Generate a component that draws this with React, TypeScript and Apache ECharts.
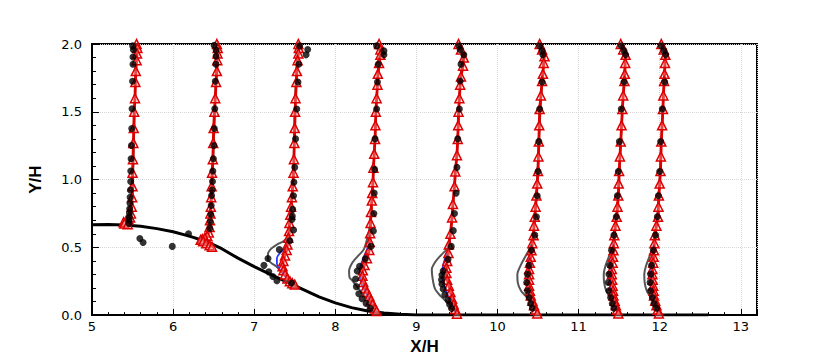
import React, { useEffect, useRef } from "react";
import * as echarts from "echarts";

type P = [number, number];

// Hill profile (X/H, Y/H)
const hill: P[] = [
  [5.0, 0.667], [5.2, 0.668], [5.4, 0.664], [5.6, 0.655], [5.8, 0.638], [6.0, 0.615],
  [6.2, 0.583], [6.4, 0.545], [6.6, 0.49], [6.8, 0.42], [7.0, 0.358], [7.2, 0.3],
  [7.4, 0.245], [7.6, 0.19], [7.8, 0.135], [8.0, 0.09], [8.2, 0.055], [8.4, 0.03],
  [8.6, 0.015], [8.8, 0.006], [9.0, 0.0], [12.6, 0.0],
];

// Red line with triangles
const red1: P[] = [
  [5.55, 2.0], [5.56, 1.97], [5.555, 1.93], [5.55, 1.88], [5.54, 1.8], [5.535, 1.72], [5.53, 1.6],
  [5.52, 1.5], [5.515, 1.38], [5.51, 1.27], [5.505, 1.15], [5.5, 1.05], [5.5, 0.95], [5.495, 0.87],
  [5.49, 0.8], [5.48, 0.75], [5.47, 0.72], [5.45, 0.705], [5.42, 0.695], [5.39, 0.685], [5.4, 0.675], [5.44, 0.67],
];
const red2: P[] = [
  [6.54, 2.0], [6.55, 1.97], [6.548, 1.93], [6.545, 1.88], [6.54, 1.8], [6.53, 1.72], [6.52, 1.6],
  [6.51, 1.5], [6.5, 1.38], [6.495, 1.27], [6.49, 1.15], [6.48, 1.05], [6.475, 0.95], [6.47, 0.87],
  [6.465, 0.8], [6.46, 0.75], [6.455, 0.7], [6.45, 0.65], [6.44, 0.61], [6.42, 0.585], [6.39, 0.57],
  [6.36, 0.56], [6.34, 0.555], [6.37, 0.545], [6.41, 0.53], [6.45, 0.515], [6.48, 0.505],
];
const red3: P[] = [
  [7.545, 2.0], [7.55, 1.97], [7.545, 1.93], [7.535, 1.88], [7.527, 1.8], [7.52, 1.72], [7.51, 1.6],
  [7.505, 1.5], [7.5, 1.38], [7.495, 1.27], [7.49, 1.15], [7.485, 1.05], [7.475, 0.95], [7.465, 0.87],
  [7.455, 0.8], [7.445, 0.74], [7.435, 0.68], [7.43, 0.62], [7.42, 0.57], [7.41, 0.52], [7.4, 0.48],
  [7.38, 0.44], [7.36, 0.4], [7.35, 0.36], [7.36, 0.33], [7.38, 0.3], [7.41, 0.27], [7.44, 0.25],
  [7.47, 0.235], [7.5, 0.225],
];
const red4: P[] = [
  [8.54, 2.0], [8.556, 1.96], [8.556, 1.92], [8.54, 1.86], [8.525, 1.78], [8.52, 1.7], [8.51, 1.6],
  [8.5, 1.5], [8.495, 1.4], [8.49, 1.3], [8.48, 1.19], [8.47, 1.087], [8.465, 0.98], [8.455, 0.9],
  [8.45, 0.845], [8.44, 0.76], [8.435, 0.68], [8.43, 0.604], [8.425, 0.54], [8.42, 0.48], [8.39, 0.42],
  [8.36, 0.37], [8.34, 0.33], [8.335, 0.29], [8.345, 0.245], [8.37, 0.2], [8.39, 0.17], [8.42, 0.14],
  [8.44, 0.11], [8.46, 0.08], [8.49, 0.049], [8.51, 0.03],
];
const red5: P[] = [
  [9.52, 2.0], [9.55, 1.96], [9.585, 1.9], [9.575, 1.84], [9.55, 1.76], [9.54, 1.7], [9.53, 1.6],
  [9.52, 1.5], [9.515, 1.4], [9.51, 1.3], [9.5, 1.18], [9.48, 1.06], [9.47, 0.95], [9.45, 0.82],
  [9.44, 0.72], [9.42, 0.6], [9.4, 0.52], [9.395, 0.459], [9.38, 0.4], [9.37, 0.35], [9.37, 0.31],
  [9.38, 0.26], [9.4, 0.217], [9.42, 0.17], [9.44, 0.121], [9.46, 0.08], [9.48, 0.045], [9.5, 0.01],
];
const red6: P[] = [
  [10.52, 2.0], [10.55, 1.96], [10.58, 1.91], [10.57, 1.86], [10.56, 1.78], [10.55, 1.727], [10.535, 1.62],
  [10.52, 1.52], [10.515, 1.4], [10.51, 1.28], [10.505, 1.17], [10.5, 1.063], [10.49, 0.97], [10.48, 0.882],
  [10.47, 0.8], [10.46, 0.725], [10.45, 0.66], [10.445, 0.59], [10.43, 0.53], [10.42, 0.478], [10.41, 0.43],
  [10.4, 0.386], [10.39, 0.34], [10.39, 0.302], [10.39, 0.26], [10.39, 0.217], [10.4, 0.18], [10.41, 0.145],
  [10.43, 0.105], [10.45, 0.072], [10.47, 0.04], [10.49, 0.012],
];
const red7: P[] = [
  [11.52, 2.0], [11.55, 1.96], [11.58, 1.92], [11.575, 1.86], [11.57, 1.78], [11.565, 1.727], [11.55, 1.62],
  [11.54, 1.52], [11.53, 1.4], [11.52, 1.28], [11.51, 1.17], [11.5, 1.063], [11.495, 0.97], [11.49, 0.882],
  [11.48, 0.8], [11.47, 0.725], [11.455, 0.66], [11.44, 0.59], [11.435, 0.53], [11.43, 0.478], [11.425, 0.43],
  [11.42, 0.386], [11.41, 0.34], [11.41, 0.302], [11.415, 0.26], [11.42, 0.217], [11.425, 0.18], [11.43, 0.145],
  [11.445, 0.105], [11.46, 0.072], [11.475, 0.04], [11.49, 0.012],
];
const red8: P[] = [
  [12.02, 2.0], [12.05, 1.96], [12.07, 1.92], [12.065, 1.86], [12.06, 1.78], [12.055, 1.727], [12.045, 1.62],
  [12.04, 1.52], [12.03, 1.4], [12.02, 1.28], [12.015, 1.17], [12.01, 1.063], [12.0, 0.97], [11.99, 0.882],
  [11.985, 0.8], [11.98, 0.725], [11.96, 0.66], [11.94, 0.59], [11.935, 0.53], [11.93, 0.478], [11.925, 0.43],
  [11.92, 0.386], [11.91, 0.34], [11.91, 0.302], [11.915, 0.26], [11.92, 0.217], [11.925, 0.18], [11.93, 0.145],
  [11.945, 0.105], [11.96, 0.072], [11.975, 0.04], [11.99, 0.012],
];

// Gray line
const gray1: P[] = [[5.545, 2.0], [5.54, 1.8], [5.525, 1.5], [5.505, 1.0], [5.49, 0.8], [5.475, 0.73], [5.44, 0.7], [5.4, 0.685], [5.42, 0.672]];
const gray2: P[] = [[6.535, 2.0], [6.53, 1.8], [6.515, 1.5], [6.485, 1.0], [6.465, 0.75], [6.45, 0.64], [6.42, 0.6], [6.36, 0.575], [6.33, 0.56], [6.36, 0.55], [6.42, 0.53], [6.48, 0.51]];
const gray3: P[] = [[7.54, 2.0], [7.52, 1.8], [7.5, 1.5], [7.48, 1.0], [7.45, 0.8], [7.44, 0.7], [7.44, 0.62], [7.42, 0.58], [7.36, 0.545], [7.28, 0.52], [7.21, 0.49], [7.17, 0.45], [7.17, 0.41], [7.21, 0.385], [7.27, 0.36], [7.34, 0.32], [7.42, 0.27], [7.49, 0.23]];
const gray4: P[] = [[8.535, 2.0], [8.55, 1.92], [8.52, 1.72], [8.49, 1.3], [8.465, 1.0], [8.445, 0.76], [8.42, 0.64], [8.4, 0.58], [8.35, 0.483], [8.27, 0.43], [8.21, 0.386], [8.17, 0.326], [8.175, 0.28], [8.21, 0.254], [8.29, 0.193], [8.36, 0.14], [8.43, 0.096], [8.51, 0.036]];
const gray5: P[] = [[9.515, 2.0], [9.57, 1.9], [9.54, 1.72], [9.51, 1.3], [9.47, 0.95], [9.43, 0.65], [9.4, 0.52], [9.37, 0.483], [9.3, 0.44], [9.23, 0.39], [9.19, 0.338], [9.2, 0.27], [9.23, 0.193], [9.3, 0.14], [9.38, 0.096], [9.45, 0.05], [9.5, 0.01]];
const gray6: P[] = [[10.52, 2.0], [10.57, 1.9], [10.55, 1.72], [10.51, 1.28], [10.48, 0.88], [10.45, 0.66], [10.43, 0.55], [10.41, 0.507], [10.35, 0.44], [10.28, 0.36], [10.245, 0.3], [10.25, 0.24], [10.29, 0.18], [10.35, 0.14], [10.41, 0.1], [10.46, 0.05], [10.49, 0.01]];
const gray7: P[] = [[11.52, 2.0], [11.575, 1.9], [11.56, 1.72], [11.52, 1.28], [11.49, 0.88], [11.455, 0.66], [11.44, 0.56], [11.42, 0.5], [11.38, 0.44], [11.33, 0.36], [11.31, 0.3], [11.315, 0.24], [11.34, 0.18], [11.38, 0.14], [11.42, 0.1], [11.46, 0.05], [11.49, 0.01]];
const gray8: P[] = [[12.02, 2.0], [12.07, 1.9], [12.055, 1.72], [12.02, 1.28], [11.99, 0.88], [11.96, 0.66], [11.945, 0.56], [11.92, 0.5], [11.88, 0.44], [11.83, 0.36], [11.81, 0.3], [11.815, 0.24], [11.84, 0.18], [11.88, 0.14], [11.92, 0.1], [11.96, 0.05], [11.99, 0.01]];

// Blue line (visible only near the wall, elsewhere under the red line)
const blue3: P[] = [[7.43, 0.62], [7.42, 0.57], [7.38, 0.5], [7.32, 0.46], [7.28, 0.42], [7.28, 0.38], [7.31, 0.34], [7.36, 0.3], [7.42, 0.265], [7.49, 0.23]];
const blue4: P[] = [[8.43, 0.6], [8.4, 0.5], [8.36, 0.44], [8.32, 0.38], [8.3, 0.33], [8.31, 0.27], [8.33, 0.22], [8.37, 0.17], [8.43, 0.11], [8.5, 0.04]];
const blue5: P[] = [[9.42, 0.6], [9.4, 0.5], [9.36, 0.43], [9.33, 0.37], [9.32, 0.31], [9.33, 0.25], [9.36, 0.19], [9.4, 0.13], [9.45, 0.07], [9.5, 0.01]];
const blue6: P[] = [[10.445, 0.59], [10.41, 0.48], [10.38, 0.39], [10.37, 0.3], [10.37, 0.22], [10.39, 0.15], [10.43, 0.09], [10.48, 0.02]];
const blue7: P[] = [[11.44, 0.59], [11.42, 0.48], [11.4, 0.39], [11.39, 0.3], [11.39, 0.22], [11.41, 0.15], [11.44, 0.09], [11.48, 0.02]];
const blue8: P[] = [[11.94, 0.59], [11.92, 0.48], [11.9, 0.39], [11.89, 0.3], [11.89, 0.22], [11.91, 0.15], [11.94, 0.09], [11.98, 0.02]];

// Black dots (experiment)
const dots1: P[] = [[5.502, 1.986], [5.51, 1.957], [5.505, 1.904], [5.505, 1.85], [5.5, 1.725], [5.494, 1.522], [5.49, 1.377], [5.486, 1.251], [5.482, 1.154], [5.478, 1.063], [5.477, 0.985], [5.474, 0.922], [5.47, 0.87], [5.468, 0.826], [5.465, 0.785], [5.462, 0.754], [5.46, 0.725], [5.458, 0.701], [5.456, 0.676]];
const dots2: P[] = [[6.506, 1.99], [6.531, 1.955], [6.53, 1.91], [6.528, 1.85], [6.52, 1.725], [6.514, 1.522], [6.508, 1.377], [6.502, 1.251], [6.497, 1.154], [6.49, 1.063], [6.486, 0.985], [6.48, 0.922], [6.475, 0.882], [6.47, 0.809], [6.465, 0.742], [6.458, 0.688], [6.453, 0.64]];
const dots3: P[] = [[7.56, 1.986], [7.66, 1.96], [7.64, 1.92], [7.55, 1.85], [7.54, 1.72], [7.525, 1.52], [7.51, 1.3], [7.5, 1.09], [7.49, 0.98], [7.485, 0.88], [7.475, 0.78], [7.47, 0.73], [7.465, 0.705], [7.486, 0.628], [7.44, 0.548], [7.31, 0.483], [7.17, 0.418], [7.12, 0.367], [7.18, 0.319], [7.23, 0.285], [7.28, 0.254], [7.46, 0.237]];
const dots4: P[] = [[8.51, 1.986], [8.6, 1.95], [8.6, 1.92], [8.53, 1.85], [8.52, 1.72], [8.51, 1.52], [8.49, 1.3], [8.485, 1.075], [8.48, 0.9], [8.476, 0.75], [8.47, 0.62], [8.44, 0.507], [8.37, 0.415], [8.3, 0.36], [8.27, 0.326], [8.25, 0.266], [8.26, 0.21], [8.29, 0.157], [8.33, 0.121], [8.38, 0.085], [8.43, 0.05]];
const dots5: P[] = [[9.526, 1.986], [9.54, 1.96], [9.585, 1.92], [9.55, 1.85], [9.54, 1.727], [9.53, 1.52], [9.51, 1.3], [9.5, 1.09], [9.49, 0.9], [9.47, 0.75], [9.455, 0.623], [9.43, 0.507], [9.39, 0.411], [9.33, 0.326], [9.315, 0.295], [9.31, 0.261], [9.315, 0.23], [9.33, 0.193], [9.35, 0.15], [9.39, 0.109], [9.41, 0.078], [9.435, 0.048]];
const dots6: P[] = [[10.52, 1.986], [10.55, 1.95], [10.56, 1.92], [10.55, 1.72], [10.52, 1.52], [10.51, 1.28], [10.5, 1.06], [10.49, 0.88], [10.48, 0.725], [10.46, 0.59], [10.42, 0.478], [10.39, 0.367], [10.37, 0.302], [10.36, 0.24], [10.37, 0.18], [10.39, 0.13], [10.41, 0.085], [10.43, 0.05]];
const dots7: P[] = [[11.527, 1.986], [11.56, 1.95], [11.58, 1.92], [11.56, 1.72], [11.527, 1.52], [11.503, 1.28], [11.49, 1.06], [11.478, 0.88], [11.465, 0.725], [11.436, 0.59], [11.407, 0.478], [11.386, 0.367], [11.374, 0.302], [11.366, 0.24], [11.374, 0.18], [11.395, 0.13], [11.416, 0.085], [11.436, 0.05]];
const dots8: P[] = [[12.02, 1.986], [12.053, 1.95], [12.074, 1.92], [12.062, 1.72], [12.033, 1.52], [12.012, 1.28], [12.0, 1.06], [11.984, 0.88], [11.971, 0.725], [11.95, 0.59], [11.922, 0.478], [11.9, 0.367], [11.889, 0.302], [11.881, 0.24], [11.889, 0.18], [11.91, 0.13], [11.93, 0.085], [11.963, 0.05]];
const dotsExtra: P[] = [[5.59, 0.565], [5.63, 0.536], [5.99, 0.507], [6.19, 0.6]];

const xTicksMajor = { min: 5, max: 13.2, interval: 1 };
const xTicksMinor = 0.2;
const yTicks = { min: 0, max: 2, interval: 0.5 };
const yTicksMinor = 0.1;

const redLines = [red1, red2, red3, red4, red5, red6, red7, red8];
const grayLines = [gray1, gray2, gray3, gray4, gray5, gray6, gray7, gray8];
const blueLines = [blue3, blue4, blue5, blue6, blue7, blue8];
const dotSets = [dots1, dots2, dots3, dots4, dots5, dots6, dots7, dots8, dotsExtra];

const tickFont = { fontFamily: "DejaVu Sans", fontSize: 13, color: "#000" };
const nameFont = { fontFamily: "Liberation Sans, Arial, sans-serif", fontSize: 17, fontWeight: "bold" as const, color: "#000" };
const gridLine = { show: true, lineStyle: { color: "#d6d6d6", type: "dotted", width: 1 } };

function buildOption(): any {
  const series: any[] = [];
  series.push({
    type: "line", data: hill, symbol: "none", z: 1,
    lineStyle: { color: "#000", width: 3 },
  });
  grayLines.forEach((d) => series.push({
    type: "line", data: d, symbol: "none", smooth: 0.3, z: 2,
    lineStyle: { color: "#555", width: 2 },
  }));
  blueLines.forEach((d) => series.push({
    type: "line", data: d, symbol: "none", smooth: 0.3, z: 3,
    lineStyle: { color: "#2a3cff", width: 1.8 },
  }));
  redLines.forEach((d) => series.push({
    type: "line", data: d, symbol: "triangle", symbolSize: 9, showSymbol: true, z: 4,
    lineStyle: { color: "#dd0000", width: 2.8 },
    itemStyle: { color: "rgba(255,200,200,0.35)", borderColor: "#dd0000", borderWidth: 1.5 },
  }));
  series.push({
    type: "scatter", data: dotSets.flat(), symbol: "circle", symbolSize: 7, z: 5,
    itemStyle: { color: "#000" },
  });

  return {
    animation: false,
    backgroundColor: "#fff",
    grid: { left: 92, right: 73, top: 44, bottom: 42, show: true, borderColor: "#000", borderWidth: 2, backgroundColor: "transparent" },
    xAxis: [
      {
        type: "value", min: xTicksMajor.min, max: xTicksMajor.max, interval: xTicksMinor, position: "bottom",
        axisLine: { show: true, onZero: false, lineStyle: { color: "#000", width: 2 } },
        axisTick: { show: true, inside: true, length: 3, lineStyle: { color: "#000", width: 1 } },
        axisLabel: { show: false }, splitLine: { show: false },
      },
      {
        type: "value", min: xTicksMajor.min, max: xTicksMajor.max, interval: xTicksMajor.interval, position: "bottom",
        axisLine: { show: false, onZero: false },
        axisTick: { show: true, inside: true, length: 6, lineStyle: { color: "#000", width: 1 } },
        axisLabel: {
          ...tickFont, margin: 5,
          formatter: (v: number) => (Math.abs(v - Math.round(v)) < 1e-6 ? String(Math.round(v)) : ""),
        },
        splitLine: gridLine,
        name: "X/H", nameLocation: "middle", nameGap: 17, nameTextStyle: nameFont,
      },
    ],
    yAxis: [
      {
        type: "value", min: yTicks.min, max: yTicks.max, interval: yTicksMinor, position: "left",
        axisLine: { show: true, onZero: false, lineStyle: { color: "#000", width: 2 } },
        axisTick: { show: true, inside: true, length: 4, lineStyle: { color: "#000", width: 1 } },
        axisLabel: { show: false }, splitLine: { show: false },
      },
      {
        type: "value", min: yTicks.min, max: yTicks.max, interval: yTicks.interval, position: "left",
        axisLine: { show: false, onZero: false },
        axisTick: { show: true, inside: true, length: 7, lineStyle: { color: "#000", width: 1 } },
        axisLabel: { ...tickFont, margin: 10, formatter: (v: number) => v.toFixed(1) },
        splitLine: gridLine,
        name: "Y/H", nameLocation: "middle", nameGap: 48, nameRotate: 90, nameTextStyle: nameFont,
      },
    ],
    series,
  };
}

export default function App() {
  const ref = useRef<HTMLDivElement>(null);
  useEffect(() => {
    const chart = echarts.init(ref.current!, null, { renderer: "svg" });
    chart.setOption(buildOption());
    return () => chart.dispose();
  }, []);
  return (
    <div
      ref={ref}
      style={{ position: "absolute", left: 0, top: 0, width: 830, height: 360, background: "#fff" }}
    />
  );
}
